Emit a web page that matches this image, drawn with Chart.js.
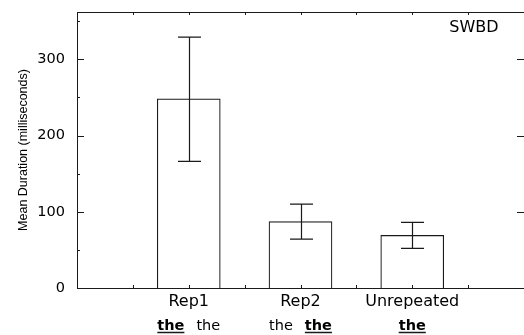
<!DOCTYPE html>
<html>
<head>
<meta charset="utf-8">
<title>SWBD mean duration</title>
<script src="https://cdn.jsdelivr.net/npm/chart.js@4.4.1/dist/chart.umd.min.js"></script>
<style>
  html, body { margin: 0; padding: 0; background: #fff; }
  #wrap { width: 524px; height: 335px; }
</style>
</head>
<body>
<div id="wrap"><canvas id="chart" width="524" height="335"></canvas></div>
<script>
// SWBD panel: mean duration per condition, with error bars
var categories = ['Rep1', 'Rep2', 'Unrepeated'];
var positions = [1, 2, 3];
var means = [248, 87, 69];
var errLow = [166, 64, 52];
var errHigh = [329, 110, 86];
var yTicks = [0, 100, 200, 300];
var yMinorTicks = [50, 150, 250, 350];
var subWords = [['the', 'the'], ['the', 'the'], ['the']];
var subBold = [[true, false], [false, true], [true]];
var panelLabel = 'SWBD';

var INK = '#1a1a1a';
var SANS = '"DejaVu Sans", sans-serif';

// frame, inward ticks, error bars and the second label row
var extras = {
  id: 'extras',
  afterDatasetsDraw: function (chart) {
    var ctx = chart.ctx, a = chart.chartArea;
    var xs = chart.scales.x, ys = chart.scales.y;
    var meta = chart.getDatasetMeta(0);
    ctx.save();
    ctx.strokeStyle = INK;
    ctx.lineWidth = 1.2;

    // error bars
    positions.forEach(function (p, i) {
      var x = Math.round(meta.data[i].x) + 0.5;
      var hi = ys.getPixelForValue(errHigh[i]);
      var lo = ys.getPixelForValue(errLow[i]);
      ctx.beginPath();
      ctx.moveTo(x, hi); ctx.lineTo(x, lo);
      ctx.moveTo(x - 11.5, hi); ctx.lineTo(x + 11.5, hi);
      ctx.moveTo(x - 11.5, lo); ctx.lineTo(x + 11.5, lo);
      ctx.stroke();
    });

    // top frame line
    ctx.lineWidth = 1;
    ctx.beginPath();
    ctx.moveTo(a.left, a.top + 0.5); ctx.lineTo(a.right, a.top + 0.5);
    ctx.stroke();

    // y ticks, pointing inward on both sides
    ctx.beginPath();
    yTicks.forEach(function (v) {
      if (v === 0) return;
      var y = Math.round(ys.getPixelForValue(v)) + 0.5;
      ctx.moveTo(a.left, y); ctx.lineTo(a.left + 7, y);
      ctx.moveTo(a.right, y); ctx.lineTo(a.right - 7, y);
    });
    yMinorTicks.forEach(function (v) {
      var y = Math.round(ys.getPixelForValue(v)) + 0.5;
      ctx.moveTo(a.left, y); ctx.lineTo(a.left + 3, y);
    });
    // x ticks every half category, top and bottom
    for (var k = 1; k < 8; k++) {
      var x = Math.round(xs.getPixelForValue(k / 2)) + 0.5;
      ctx.moveTo(x, a.bottom); ctx.lineTo(x, a.bottom - 3);
      ctx.moveTo(x, a.top); ctx.lineTo(x, a.top + 3);
    }
    ctx.stroke();

    // panel label
    ctx.fillStyle = '#000';
    ctx.font = '16px ' + SANS;
    ctx.textAlign = 'center';
    ctx.textBaseline = 'alphabetic';
    ctx.fillText(panelLabel, 474, 32);

    // second row of labels under each category
    ctx.textAlign = 'left';
    positions.forEach(function (p, i) {
      var cx = xs.getPixelForValue(p);
      var words = subWords[i], bold = subBold[i];
      var gap = 12, widths = [], total = 0;
      words.forEach(function (w, j) {
        ctx.font = (bold[j] ? 'bold ' : '') + '14.5px ' + SANS;
        widths[j] = ctx.measureText(w).width;
        total += widths[j];
      });
      total += gap * (words.length - 1);
      var x = cx - total / 2;
      words.forEach(function (w, j) {
        ctx.font = (bold[j] ? 'bold ' : '') + '14.5px ' + SANS;
        ctx.fillText(w, x, 330);
        if (bold[j]) {
          ctx.lineWidth = 1.5;
          ctx.beginPath();
          ctx.moveTo(x, 332.5); ctx.lineTo(x + widths[j], 332.5);
          ctx.stroke();
        }
        x += widths[j] + gap;
      });
    });
    ctx.restore();
  }
};

function noPad(s) {
  s.paddingTop = 0; s.paddingBottom = 0;
  s.paddingLeft = 0; s.paddingRight = 0;
}

new Chart(document.getElementById('chart'), {
  type: 'bar',
  data: {
    datasets: [{
      data: positions.map(function (p, i) { return { x: p, y: means[i] }; }),
      backgroundColor: '#ffffff',
      borderColor: INK,
      borderWidth: 1.2,
      barThickness: 63
    }]
  },
  options: {
    responsive: false,
    animation: false,
    layout: { padding: { top: 12, right: 0, left: 0, bottom: 0 } },
    plugins: { legend: { display: false }, tooltip: { enabled: false } },
    scales: {
      x: {
        type: 'linear',
        min: 0,
        max: 4,
        offset: false,
        grid: { display: false, drawTicks: false },
        border: { display: true, color: INK, width: 1 },
        ticks: {
          stepSize: 1,
          autoSkip: false,
          maxRotation: 0,
          padding: 4,
          color: '#000',
          font: { family: SANS, size: 16 },
          callback: function (v) {
            var i = positions.indexOf(v);
            return i >= 0 ? categories[i] : '';
          }
        },
        afterFit: function (s) { s.height = 47; noPad(s); }
      },
      y: {
        min: 0,
        max: 362,
        grid: { display: false, drawTicks: false },
        border: { display: true, color: INK, width: 1 },
        afterBuildTicks: function (s) {
          s.ticks = yTicks.map(function (v) { return { value: v }; });
        },
        ticks: {
          padding: 12,
          color: '#000',
          font: { family: SANS, size: 14.5 }
        },
        title: {
          display: true,
          text: 'Mean Duration (milliseconds)',
          color: '#000',
          padding: { top: 16, bottom: 0 },
          font: { family: '"Liberation Sans", Arial, sans-serif', size: 12.5 }
        },
        afterFit: function (s) { s.width = 77; noPad(s); }
      }
    }
  },
  plugins: [extras]
});
</script>
</body>
</html>
